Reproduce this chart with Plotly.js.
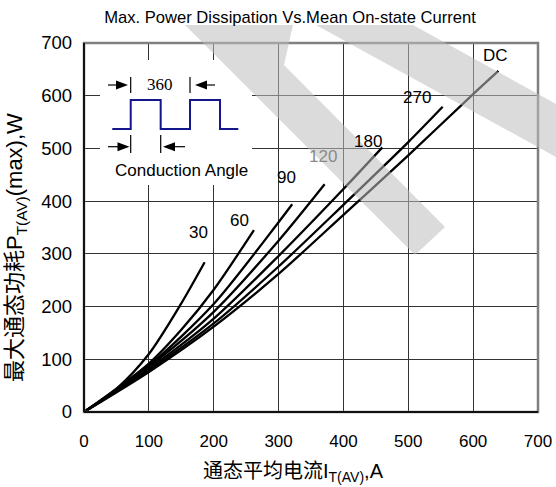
<!DOCTYPE html>
<html><head><meta charset="utf-8">
<script src="https://cdn.plot.ly/plotly-3.0.1.min.js"></script>
<style>body{margin:0;background:#fff}</style></head>
<body><div id="chart" style="width:556px;height:487px"></div>
<script>
// ---- data ----
const curveNames = ['30','60','90','120','180','270','DC'];
const x30  = [0, 50, 100, 150, 186];
const y30  = [0, 44, 110, 206, 284];
const x60  = [0, 100, 150, 200, 262];
const y60  = [0, 92, 156, 232, 345];
const x90  = [0, 100, 200, 300, 321];
const y90  = [0, 88, 205, 360, 394];
const x120 = [0, 100, 200, 300, 371];
const y120 = [0, 86, 190, 325, 432];
const x180 = [0, 100, 200, 300, 400, 460];
const y180 = [0, 82, 177, 296, 423, 502];
const x270 = [0, 100, 200, 300, 400, 500, 553];
const y270 = [0, 79, 168, 276, 393, 512, 579];
const xDC  = [0, 100, 200, 300, 400, 500, 600, 639];
const yDC  = [0, 76, 162, 262, 374, 487, 603, 647];
const tickVals = [0, 100, 200, 300, 400, 500, 600, 700];
const tickText = ['0','100','200','300','400','500','600','700'];

const seriesX = [x30, x60, x90, x120, x180, x270, xDC];
const seriesY = [y30, y60, y90, y120, y180, y270, yDC];

// ---- layout helpers (pixel -> paper) ----
const L = 84, R = 538, T = 43, B = 412;
const px = x => (x - L) / (R - L);
const py = y => (B - y) / (B - T);
function pth(pts, close) {
  return pts.map((p, i) => (i ? 'L' : 'M') + px(p[0]).toFixed(4) + ',' + py(p[1]).toFixed(4)).join(' ') + (close ? ' Z' : '');
}
const P = {xref:'paper', yref:'paper', layer:'above'};

const traces = seriesX.map((xs, i) => ({
  x: xs, y: seriesY[i], name: curveNames[i], type: 'scatter', mode: 'lines',
  line: {color: '#000', width: 2.3, shape: 'spline', smoothing: 0.8},
  hoverinfo: 'skip', showlegend: false
}));

const labelFont = {family: 'Liberation Sans, Arial, sans-serif', size: 17, color: '#000'};
const labelPos = {'30':[177,341], '60':[239,364], '90':[312,445], '120':[368,484], '180':[438,513], '270':[513,596], 'DC':[635,677]};
const annotations = curveNames.map(n => ({
  x: labelPos[n][0], y: labelPos[n][1], xref: 'x', yref: 'y', text: n, showarrow: false,
  font: Object.assign({}, labelFont, {color: n === '120' ? '#8a8a8a' : '#000'}),
  xanchor: 'center', yanchor: 'middle'
}));

annotations.push(
  {xref:'paper', yref:'paper', x: px(16), y: py(248), textangle: -90, showarrow:false,
   text: '最大通态功耗P<sub>T(AV)</sub>(max),W', xanchor:'center', yanchor:'middle',
   font: {family:'Liberation Sans, Noto Sans CJK SC, sans-serif', size: 22, color:'#000'}},
  {xref:'paper', yref:'paper', x: px(293), y: py(472), showarrow:false,
   text: '通态平均电流I<sub>T(AV)</sub>,A', xanchor:'center', yanchor:'middle',
   font: {family:'Liberation Sans, Noto Sans CJK SC, sans-serif', size: 20, color:'#000'}},
  {xref:'paper', yref:'paper', x: px(159.5), y: py(85), showarrow:false, text:'360',
   xanchor:'center', yanchor:'middle', font:{family:'Liberation Serif, Times New Roman, serif', size:17, color:'#000'}},
  {xref:'paper', yref:'paper', x: px(181.7), y: py(170), showarrow:false, text:'Conduction Angle',
   xanchor:'center', yanchor:'middle', font:{family:'Liberation Sans, Arial, sans-serif', size:17, color:'#000'}}
);

const blk = {color:'#000', width:1.2};
const shapes = [
  // inset background
  Object.assign({type:'rect', x0:px(100), x1:px(252), y0:py(185), y1:py(60), fillcolor:'#fff', line:{width:0}}, P),
  // square wave
  Object.assign({type:'path', path: pth([[112.3,129],[130.7,129],[130.7,100],[160.7,100],[160.7,129],[190,129],[190,100],[220,100],[220,129],[238.3,129]]),
    line:{color:'#15158c', width:2}}, P),
  // bars
  Object.assign({type:'line', x0:px(130.7), x1:px(130.7), y0:py(77), y1:py(93), line:blk}, P),
  Object.assign({type:'line', x0:px(190), x1:px(190), y0:py(77), y1:py(93), line:blk}, P),
  Object.assign({type:'line', x0:px(130.7), x1:px(130.7), y0:py(135), y1:py(153), line:blk}, P),
  Object.assign({type:'line', x0:px(160.7), x1:px(160.7), y0:py(135), y1:py(153), line:blk}, P),
  // arrows
  Object.assign({type:'line', x0:px(108), x1:px(120), y0:py(85), y1:py(85), line:blk}, P),
  Object.assign({type:'path', path: pth([[116,80.5],[128,85],[116,89.5]], true), fillcolor:'#000', line:{width:0}}, P),
  Object.assign({type:'line', x0:px(215), x1:px(203), y0:py(85), y1:py(85), line:blk}, P),
  Object.assign({type:'path', path: pth([[207,80.5],[195,85],[207,89.5]], true), fillcolor:'#000', line:{width:0}}, P),
  Object.assign({type:'line', x0:px(108), x1:px(120), y0:py(146.7), y1:py(146.7), line:blk}, P),
  Object.assign({type:'path', path: pth([[117.5,142.2],[129.5,146.7],[117.5,151.2]], true), fillcolor:'#000', line:{width:0}}, P),
  Object.assign({type:'line', x0:px(185), x1:px(173), y0:py(146.7), y1:py(146.7), line:blk}, P),
  Object.assign({type:'path', path: pth([[175,142.2],[163,146.7],[175,151.2]], true), fillcolor:'#000', line:{width:0}}, P),
  // frame: grey top/right, black left/bottom
  Object.assign({type:'rect', x0:0, x1:1, y0:0, y1:1, line:{color:'#808080', width:2.5}}, P),
  Object.assign({type:'line', x0:0, x1:0, y0:0, y1:1, line:{color:'#111', width:2}}, P),
  Object.assign({type:'line', x0:0, x1:1, y0:0, y1:0, line:{color:'#111', width:2}}, P),
  // watermark bands
  Object.assign({type:'path',
    path: pth([[185,25],[293,25],[284,65],[445,227],[415,255]], true) + ' ' + pth([[316,25],[413,25],[556,104],[556,157]], true),
    fillcolor:'rgba(190,190,190,0.55)', line:{width:0}}, P)
];

const axisCommon = {
  range: [0, 700], tickvals: tickVals, ticktext: tickText, showgrid: true, gridcolor: '#333', gridwidth: 1,
  zeroline: false, showline: false, ticks: '', fixedrange: true,
  tickfont: {family: 'Liberation Sans, Arial, sans-serif', size: 17, color: '#000'}
};

const layout = {
  width: 556, height: 487,
  margin: {l: L, r: 556 - R, t: T, b: 487 - B, pad: 0},
  paper_bgcolor: '#fff', plot_bgcolor: '#fff',
  title: {text: 'Max. Power Dissipation Vs.Mean On-state Current',
    font: {family: 'Liberation Sans, Arial, sans-serif', size: 16.6, color: '#000'},
    x: 290/556, xanchor: 'center', xref: 'container', y: 1 - 17/487, yanchor: 'middle', yref: 'container'},
  xaxis: Object.assign({}, axisCommon, {ticklabelstandoff: 17}),
  yaxis: Object.assign({}, axisCommon, {ticklabelstandoff: 11,
    tickfont: {family: 'Liberation Sans, Arial, sans-serif', size: 18.5, color: '#000'}}),
  annotations: annotations,
  shapes: shapes,
  showlegend: false
};

Plotly.newPlot('chart', traces, layout, {displayModeBar: false, staticPlot: true});
</script></body></html>
